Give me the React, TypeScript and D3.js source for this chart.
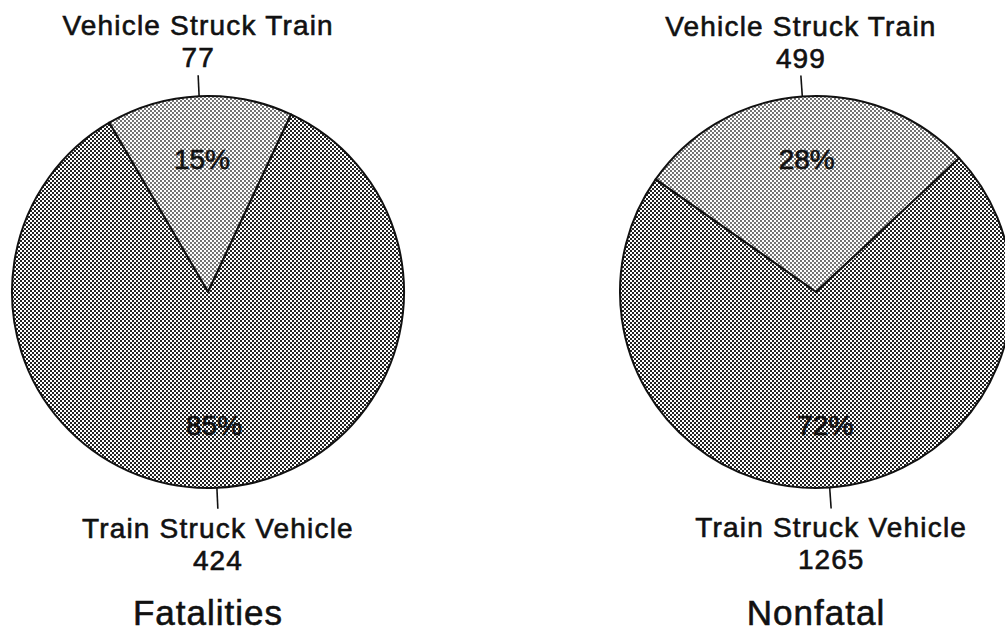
import React from 'react';
import * as d3 from 'd3';

// crash type counts
const categories = ['Vehicle Struck Train', 'Train Struck Vehicle'];
const fatalities = [77, 424];
const nonfatal = [499, 1265];
const panelTitles = ['Fatalities', 'Nonfatal'];

const W = 1005;
const H = 633;
const R = 196;
const FONT = '"Liberation Sans", Arial, Helvetica, sans-serif';

// per-panel layout: centre and a small rotation of the first slice (degrees)
const panels = [
  { values: fatalities, title: panelTitles[0], cx: 208, cy: 292, rot: -2.6 },
  { values: nonfatal, title: panelTitles[1], cx: 816, cy: 292, rot: -4 },
];

const fills = ['url(#halftoneLight)', 'url(#halftoneDark)'];

// scanned-print look: text a bit heavier than regular
const textStyle = { fontFamily: FONT, fill: '#111', stroke: '#111', strokeWidth: 0.6 };

const Pie = ({ values, title, cx, cy, rot }) => {
  const total = d3.sum(values);
  const frac0 = values[0] / total;
  const start = (rot * Math.PI) / 180 - Math.PI * frac0;

  const pie = d3.pie<number>()
    .sort(null)
    .value(d => d)
    .startAngle(start)
    .endAngle(start + 2 * Math.PI);

  const arc = d3.arc<d3.PieArcDatum<number>>().innerRadius(0).outerRadius(R);
  const arcs = pie(values);

  return (
    <g transform={`translate(${cx},${cy})`}>
      {arcs.map((a, i) => (
        <path key={i} d={arc(a) || ''} fill={fills[i]} stroke="#111" strokeWidth={2} strokeLinejoin="round" />
      ))}
      {arcs.map((a, i) => {
        const mid = (a.startAngle + a.endAngle) / 2;
        const sx = Math.sin(mid);
        const sy = -Math.cos(mid);
        const pct = Math.round((values[i] / total) * 100);
        const top = sy < 0;
        const lx = sx * (R + 21);
        const ly = sy * (R + 21);
        return (
          <g key={'lab' + i}>
            <line x1={sx * R} y1={sy * R} x2={lx} y2={ly} stroke="#111" strokeWidth={1.6} />
            <text x={sx * 133} y={sy * 133} dy="0.36em" textAnchor="middle"
              fontSize={28} style={textStyle}>{pct}%</text>
            <text x={lx} y={top ? ly - 40 : ly + 29} textAnchor="middle"
              fontSize={28} letterSpacing={1.2} style={textStyle}>{categories[i]}</text>
            <text x={lx} y={top ? ly - 8 : ly + 61} textAnchor="middle"
              fontSize={28} letterSpacing={1} style={textStyle}>{values[i]}</text>
          </g>
        );
      })}
      <text x={0} y={333} textAnchor="middle" fontSize={35} letterSpacing={1} style={textStyle}>{title}</text>
    </g>
  );
};

export default function App() {
  return (
    <svg width={W} height={H} style={{ position: 'absolute', left: 0, top: 0, background: '#fff' }}>
      <defs>
        <pattern id="halftoneDark" patternUnits="userSpaceOnUse" width={4} height={4}>
          <rect width={4} height={4} fill="#fff" />
          <rect x={0} y={0} width={2} height={2} fill="#222" />
          <rect x={2} y={2} width={2} height={2} fill="#222" />
        </pattern>
        <pattern id="halftoneLight" patternUnits="userSpaceOnUse" width={4} height={4}>
          <rect width={4} height={4} fill="#fff" />
          <circle cx={1} cy={1} r={0.9} fill="#333" />
          <circle cx={3} cy={3} r={0.9} fill="#333" />
        </pattern>
      </defs>
      <rect width={W} height={H} fill="#fff" />
      {panels.map((p, i) => (
        <Pie key={i} {...p} />
      ))}
    </svg>
  );
}
